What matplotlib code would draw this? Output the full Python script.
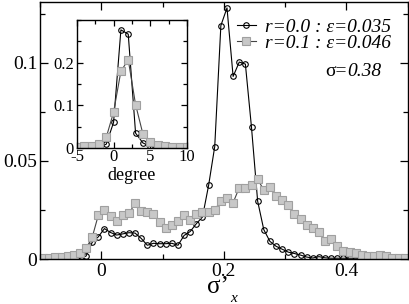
import numpy as np
import matplotlib
matplotlib.use('Agg')
import matplotlib.pyplot as plt
from matplotlib.ticker import MultipleLocator

plt.rcParams['font.family'] = ['Liberation Serif', 'DejaVu Serif']
plt.rcParams['axes.unicode_minus'] = False

# main panel: distribution of sigma'_x, bins of 0.01
x_main = np.round(np.arange(-0.095, 0.5, 0.01), 3)
circ_main = [0.0, 0.0, 0.0, 0.0, 0.0, 0.0, 0.0003, 0.0015, 0.0085, 0.0113,
             0.0155, 0.0135, 0.0122, 0.0128, 0.0134, 0.0132, 0.0105, 0.007, 0.008, 0.0078,
             0.0078, 0.008, 0.007, 0.012, 0.014, 0.018, 0.0214, 0.0375, 0.0573, 0.1189,
             0.1279, 0.093, 0.1003, 0.0993, 0.067, 0.0295, 0.015, 0.009, 0.0065, 0.005,
             0.0035, 0.0028, 0.002, 0.001, 0.0005, 0.0012, 0.0006, 0.0004, 0.0004, 0.0004,
             0.0004, 0.0004, 0.0003, 0.0003, 0.0003, 0.0003, 0.0002, 0.0002, 0.0002, 0.0002]
sq_main = [0.0005, 0.0005, 0.0008, 0.0012, 0.0015, 0.002, 0.0032, 0.0055, 0.011, 0.0223,
           0.0248, 0.022, 0.0192, 0.0223, 0.0232, 0.0283, 0.0244, 0.0239, 0.0228, 0.019,
           0.0158, 0.0174, 0.0195, 0.0222, 0.0198, 0.0228, 0.0238, 0.0238, 0.025, 0.0297,
           0.0313, 0.0287, 0.0363, 0.0362, 0.0378, 0.0405, 0.0353, 0.0366, 0.032, 0.03,
           0.0277, 0.0231, 0.0206, 0.0175, 0.0158, 0.0138, 0.009, 0.01, 0.0066, 0.0041,
           0.0036, 0.0031, 0.0022, 0.0014, 0.0014, 0.0019, 0.0014, 0.0006, 0.0006, 0.0006]

# inset: distribution in degrees
x_ins = np.arange(-5, 11)
circ_ins = [0.0, 0.0, 0.0, 0.002, 0.009, 0.06, 0.277, 0.267, 0.035, 0.012,
            0.004, 0.001, 0.001, 0.001, 0.001, 0.001]
sq_ins = [0.003, 0.004, 0.005, 0.01, 0.025, 0.084, 0.18, 0.207, 0.102, 0.033,
          0.014, 0.006, 0.004, 0.003, 0.003, 0.002]

labels = ['r=0.0 : ε=0.035', 'r=0.1 : ε=0.046']

circ_style = dict(color='black', lw=0.8, marker='o', ms=4, mfc='none', mec='black', mew=0.8)
sq_style = dict(color='#444444', lw=0.8, marker='s', ms=5.5, mfc='#c8c8c8', mec='#a0a0a0', mew=0.8)


def style_axes(ax, size, major, minor):
    ax.tick_params(which='both', direction='in', top=True, right=True, width=0.9)
    ax.tick_params(which='major', length=major, labelsize=size)
    ax.tick_params(which='minor', length=minor)
    for s in ax.spines.values():
        s.set_linewidth(1.0)


fig = plt.figure(figsize=(4.09, 3.04), dpi=100)
ax = fig.add_axes([0.098, 0.148, 0.899, 0.846])
ax.plot(x_main, circ_main, label=labels[0], **circ_style)
ax.plot(x_main, sq_main, label=labels[1], **sq_style)
ax.set_xlim(-0.1, 0.5)
ax.set_ylim(0, 0.131)
ax.xaxis.set_minor_locator(MultipleLocator(0.1))
ax.yaxis.set_minor_locator(MultipleLocator(0.025))
ax.set_xticks([0, 0.2, 0.4])
ax.set_xticklabels(['0', '0.2', '0.4'])
ax.set_yticks([0, 0.05, 0.1])
ax.set_yticklabels(['0', '0.05', '0.1'])
style_axes(ax, 14, 6, 3.5)
ax.tick_params(axis='x', pad=3)
ax.tick_params(axis='y', pad=2)

# x label: sigma' with italic subscript x
ax.text(0.484, -0.133, 'σ’', transform=ax.transAxes, fontsize=18, ha='center', va='baseline')
ax.text(0.525, -0.168, 'x', transform=ax.transAxes, fontsize=11, style='italic',
        ha='center', va='baseline')

leg = ax.legend(loc='upper right', frameon=False, prop={'style': 'italic', 'size': 14},
                handlelength=1.0, handletextpad=0.45, labelspacing=-0.1,
                borderaxespad=0.0, bbox_to_anchor=(0.975, 0.965))
ax.text(0.835, 0.728, 'σ=', transform=ax.transAxes, fontsize=14, ha='right', va='center')
ax.text(0.835, 0.728, '0.38', transform=ax.transAxes, fontsize=14, style='italic',
        ha='left', va='center')

ins = fig.add_axes([0.188, 0.513, 0.269, 0.421])
ins.plot(x_ins, circ_ins, **circ_style)
ins.plot(x_ins, sq_ins, **sq_style)
ins.set_xlim(-5, 10)
ins.set_ylim(0, 0.3)
ins.xaxis.set_major_locator(MultipleLocator(5))
ins.xaxis.set_minor_locator(MultipleLocator(2.5))
ins.set_yticks([0, 0.1, 0.2])
ins.set_yticklabels(['0', '0.1', '0.2'])
ins.yaxis.set_minor_locator(MultipleLocator(0.05))
style_axes(ins, 12, 4.5, 3)
ins.tick_params(axis='x', pad=1)
ins.tick_params(axis='y', pad=2)
ins.set_xlabel('degree', fontsize=13, labelpad=1)

fig.savefig('out.png', dpi=100)
